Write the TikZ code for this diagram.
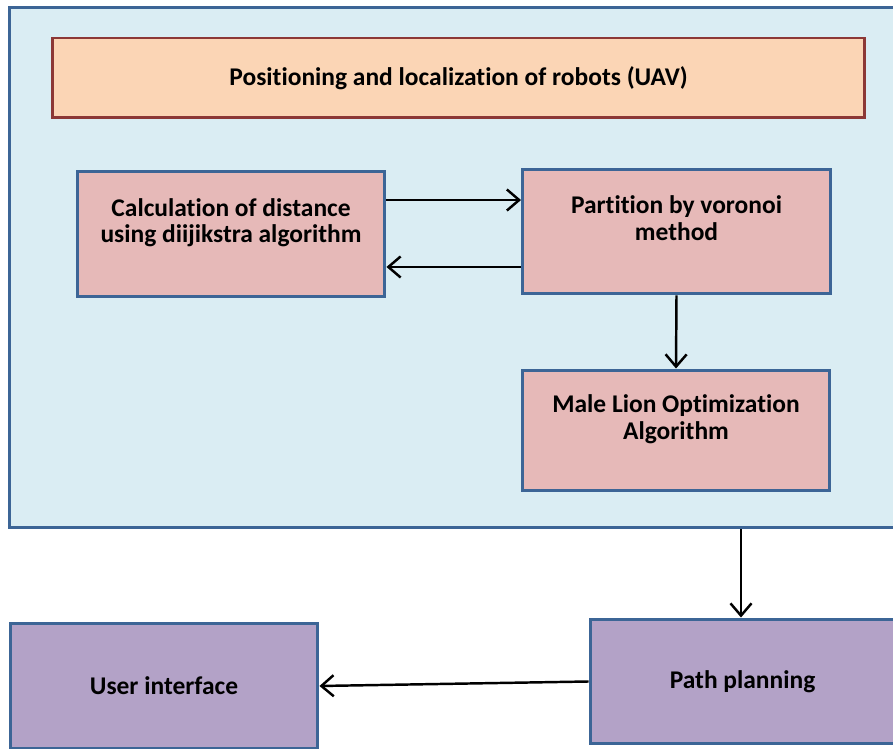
\documentclass[tikz,border=0pt]{standalone}
\usepackage{fontspec}
\setmainfont{Carlito}[Ligatures=NoCommon]
\usepackage{tikz}
\usetikzlibrary{arrows.meta}

\definecolor{panelfill}{HTML}{DAEDF3}
\definecolor{edgeblue}{HTML}{3C6596}
\definecolor{headfill}{HTML}{FBD5B5}
\definecolor{headedge}{HTML}{8C3836}
\definecolor{pinkfill}{HTML}{E6B9B8}
\definecolor{lilacfill}{HTML}{B3A2C7}

\tikzset{
    box/.style={draw=edgeblue, line width=1.7pt, minimum width=6.16cm,
        minimum height=2.5cm, align=center,
        font=\fontsize{14.5}{15.2}\selectfont\bfseries},
    arr/.style={-{Straight Barb[length=7pt,width=12pt]}, line width=1.4pt}
}

\begin{document}
\begin{tikzpicture}[x=0.02cm, y=-0.02cm]
    \useasboundingbox (0,0) rectangle (893,749);
    \clip (0,0) rectangle (893,749);

    % Outer panel (runs past the right edge)
    \node[draw=edgeblue, fill=panelfill, line width=1.7pt,
        minimum width=18.4cm, minimum height=10.42cm] (panel) at (469,267.5) {};

    % Heading bar
    \node[box, draw=headedge, fill=headfill, minimum width=16.26cm,
        minimum height=1.6cm] (head) at (458.5,78)
        {Positioning and localization of robots (UAV)};

    % Inner steps
    \node[box, fill=pinkfill] (calc) at (231,234)
        {Calculation of distance\\using diijikstra algorithm\\~};
    \node[box, fill=pinkfill] (part) at (676.5,231.5)
        {Partition by voronoi\\method\\~};
    \node[box, fill=pinkfill, minimum height=2.42cm] (lion) at (676,430.5)
        {Male Lion Optimization\\Algorithm\\~};

    % Lower row
    \node[box, fill=lilacfill] (user) at (164,686) {User interface};
    \node[box, fill=lilacfill, minimum width=6.6cm, minimum height=2.5cm] (plan) at (755,681.5)
        {\hspace*{-0.5cm}Path planning};

    % Connectors
    \draw[arr] ([yshift=0.68cm]calc.east) -- ([yshift=0.68cm]calc.east -| part.west);
    \draw[arr] ([yshift=-0.71cm]part.west) -- ([yshift=-0.71cm]part.west -| calc.east);
    \draw[arr] (part.south) -- (lion.north);
    \draw[arr] ([xshift=-0.28cm]panel.south -| plan.north) -- ([xshift=-0.28cm]plan.north);
    \draw[arr] (plan.west) -- (user.east);
\end{tikzpicture}
\end{document}
